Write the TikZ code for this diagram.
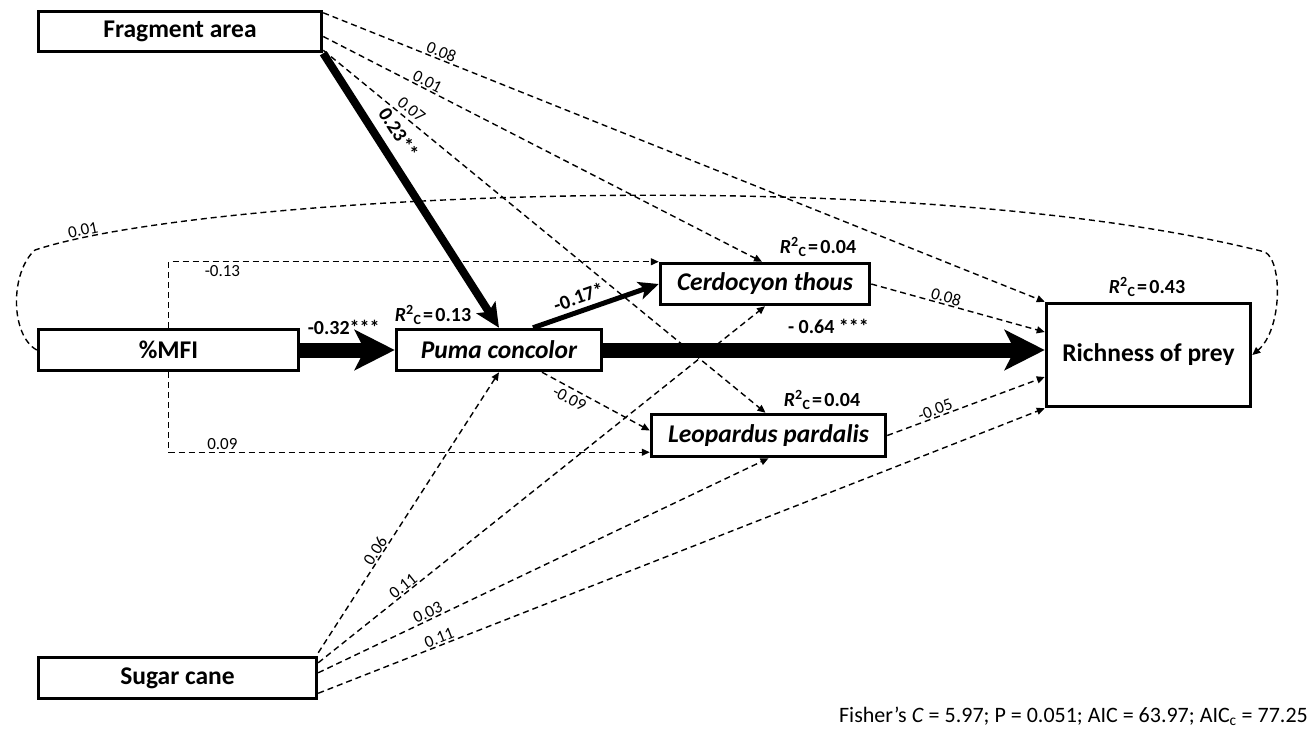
\documentclass[tikz,border=0pt]{standalone}
\usepackage{fontspec}
\setmainfont{Carlito}
\usetikzlibrary{arrows.meta,calc}
\newcommand\Rsqc[1]{\textit{R}\textsuperscript{2}\textsubscript{C}\hspace{0.08em}=\hspace{0.12em}#1}
\begin{document}
\begin{tikzpicture}[x=1pt,y=-1pt,
  box/.style={draw, line width=3.5pt, inner sep=0pt, font=\fontsize{25.5}{28}\selectfont\bfseries},
  dsh/.style={line width=1.4pt, dash pattern=on 6pt off 4pt, -{Triangle[length=8pt,width=7pt]}},
  lab/.style={font=\fontsize{17}{19}\selectfont, inner sep=1pt},
  blab/.style={font=\fontsize{20}{22}\selectfont\bfseries, inner sep=1.5pt},
  thick1/.style={line width=8pt, -{Stealth[length=24pt,width=22pt,inset=5pt]}},
  thick2/.style={line width=15pt, -{Stealth[length=40pt,width=40pt,inset=10pt]}},
  thick3/.style={line width=5pt, -{Stealth[length=20pt,width=18pt,inset=5pt]}},
]
\useasboundingbox (0,0) rectangle (1315,740);

% boxes
\node[box, minimum width=283pt, minimum height=40pt] (frag) at (180,31.5) {Fragment area};
\node[box, minimum width=260pt, minimum height=41pt] (mfi) at (168.5,350) {\%MFI};
\node[box, minimum width=205pt, minimum height=41pt] (puma) at (499,350) {\itshape Puma concolor};
\node[box, minimum width=209pt, minimum height=41pt] (cerdo) at (765,284) {\itshape Cerdocyon thous};
\node[box, minimum width=234pt, minimum height=42pt] (leop) at (768.5,435.5) {\itshape Leopardus pardalis};
\node[box, minimum width=204pt, minimum height=103pt] (rich) at (1148.5,355) {Richness of prey};
\node[box, minimum width=278pt, minimum height=41pt] (sugar) at (177.5,678) {Sugar cane};

% R2 labels
\node[blab] (r2puma) at (433,315) {\Rsqc{0.13}};
\node[blab] (r2cerdo) at (818,247) {\Rsqc{0.04}};
\node[blab] (r2leop) at (822,400) {\Rsqc{0.04}};
\node[blab] (r2rich) at (1147,287) {\Rsqc{0.43}};

% fragment area paths
\draw[dsh] ($(frag.north east)+(0,3)$) -- (rich.north west)
  node[lab, pos=0.16, sloped, above] {0.08};
\draw[dsh] ($(frag.east)+(0,5)$) -- ($(cerdo.north)+(-3,0)$)
  node[lab, pos=0.23, sloped, above] {0.01};
\draw[dsh] ($(frag.south east)+(0,-3)$) -- ($(leop.north)+(-3,0)$)
  node[lab, pos=0.185, sloped, above=3pt] {0.07};
\draw[thick1] (frag.south east) -- (puma.north)
  node[blab, pos=0.33, sloped, above=8pt] {0.23**};

% %MFI paths
\draw[dsh] (mfi.north) |- (cerdo.north west)
  node[lab, pos=0.555, below=2pt] {-0.13};
\draw[dsh] (mfi.south) |- ($(leop.south west)+(0,-6)$)
  node[lab, pos=0.556, above=1pt] {0.09};
\draw[thick2] (mfi.east) -- (puma.west)
  node[blab, pos=0.46, above=6pt] {-0.32***};
\draw[dsh] (mfi.west) .. controls (10,335) and (10,272) .. (35,250)
  .. controls (200,195) and (900,160) .. (1265,252)
  node[lab, pos=0.08, sloped, above] {0.01}
  .. controls (1283,262) and (1282,330) .. (rich.east);

% Puma paths
\draw[thick3] ($(puma.north)+(34,0)$) -- (cerdo.west)
  node[blab, pos=0.4, sloped, above=3pt] {-0.17*};
\draw[thick2] (puma.east) -- (puma.east -| rich.west)
  node[blab, pos=0.51, above=7pt] {- 0.64 ***};
\draw[dsh] ($(puma.south)+(43,0)$) -- ($(leop.west)+(0,-5)$)
  node[lab, pos=0.3, sloped, below=3pt] {-0.09};

% mesopredators to richness
\draw[dsh] (cerdo.east) -- ($(rich.west)+(0,-23)$)
  node[lab, pos=0.42, sloped, above] {0.08};
\draw[dsh] (leop.east) -- ($(rich.west)+(0,22)$)
  node[lab, pos=0.32, sloped, above] {-0.05};

% sugar cane paths
\draw[dsh] ($(sugar.north east)+(0,-3)$) -- (puma.south)
  node[lab, pos=0.35, sloped, above] {0.06};
\draw[dsh] ($(sugar.north east)+(0,7)$) -- (cerdo.south)
  node[lab, pos=0.2, sloped, above] {0.11};
\draw[dsh] ($(sugar.north east)+(0,17)$) -- (leop.south)
  node[lab, pos=0.25, sloped, above] {0.03};
\draw[dsh] ($(sugar.south east)+(0,-7)$) -- (rich.south west)
  node[lab, pos=0.17, sloped, above] {0.11};

% footer
\node[font=\fontsize{22}{24}\selectfont, anchor=east, inner sep=0pt] (footer) at (1308,716)
  {Fisher’s \textit{C} = 5.97; P = 0.051; AIC = 63.97; AIC\textsubscript{c} = 77.25};
\end{tikzpicture}
\end{document}
